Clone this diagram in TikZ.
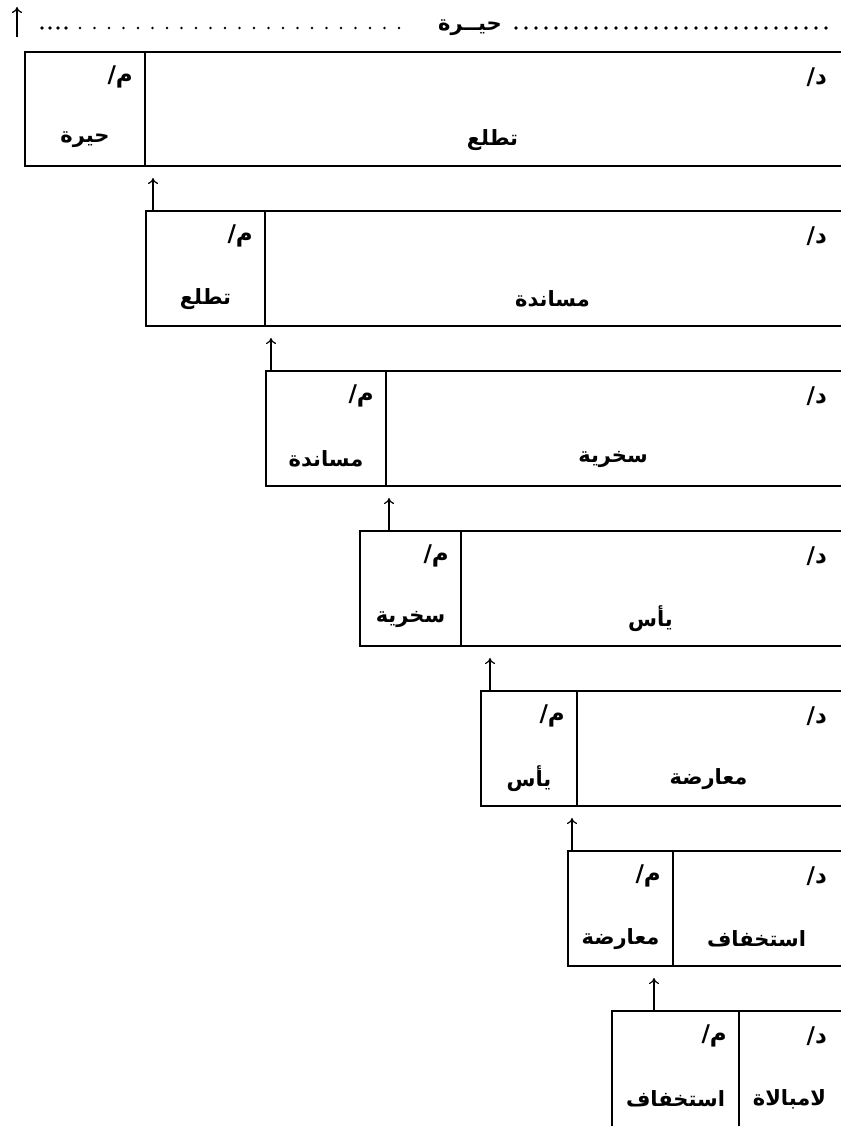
\documentclass[tikz,border=0pt]{standalone}
\usepackage{fontspec}
\TeXXeTstate=1
\newfontfamily\arabicfont[Script=Arabic]{DejaVu Sans}
\usetikzlibrary{arrows.meta}
\begin{document}
\begin{tikzpicture}[x=1pt,y=-1pt,
  boxline/.style={line width=2pt},
  stagebox/.style={draw, line width=2pt, anchor=north west, inner sep=0pt, outer sep=0pt},
  lbl/.style={font=\arabicfont\bfseries\fontsize{21}{25}\selectfont, inner sep=0pt},
  tag/.style={font=\arabicfont\bfseries\fontsize{23}{27}\selectfont, inner sep=0pt},
  arr/.style={line width=1.2pt, -{To[length=6pt,width=10pt]}},
  bigdot/.style={fill=black, circle, inner sep=0pt, minimum size=3.8pt},
  smalldot/.style={fill=black, circle, inner sep=0pt, minimum size=2.6pt},
]
\useasboundingbox (0,0) rectangle (840,1126);
% title line
\coordinate (ta) at (17,37);
\coordinate (tb) at (17,7);
\draw[arr] (ta) -- (tb);
\node[lbl] (title) at (470,28) {\beginR حيــرة\endR};
\foreach \x in {42,50,58,66} \node[bigdot] at (\x,28) {};
\foreach \x in {80,94.5,...,410} \node[smalldot] at (\x,28) {};
\foreach \x in {516,526,...,826} \node[bigdot] at (\x,28) {};

% boxes: name / left / top / bottom / divider / right word / left word
\foreach \i/\l/\t/\b/\d/\rw/\lw in {
  1/25/52/166/145/تطلع/حيرة,
  2/146/211/326/265/مساندة/تطلع,
  3/266/371/486/386/سخرية/مساندة,
  4/360/531/646/461/يأس/سخرية,
  5/481/691/806/577/معارضة/يأس,
  6/568/851/966/673/استخفاف/معارضة,
  7/612/1011/1132/739/لامبالاة/استخفاف}{
  \pgfmathsetmacro{\w}{843-\l}
  \pgfmathsetmacro{\h}{\b-\t}
  \node[stagebox, minimum width=\w pt, minimum height=\h pt] (b\i) at (\l,\t) {};
  \draw[boxline] (\d,\t) -- (\d,\b);
  \node[tag, anchor=east] (dl\i) at (827,\t+25) {\beginR د/\endR};
  \node[tag, anchor=east] (ml\i) at (\d-12,\t+25) {\beginR م/\endR};
  \pgfmathsetmacro{\rc}{(\d+840)/2}
  \node[lbl] (rw\i) at (\rc,\t+88) {\beginR \rw\endR};
  \pgfmathsetmacro{\lc}{(\l+\d)/2}
  \node[lbl] (lw\i) at (\lc,\t+88) {\beginR \lw\endR};
}

% arrows between boxes
\foreach \i/\p/\ax in {2/1/153, 3/2/271, 4/3/389, 5/4/490, 6/5/572, 7/6/654}{
  \coordinate (a\i) at (\ax,0 |- b\i.north);
  \draw[arr, shorten >=12pt] (a\i) -- (a\i |- b\p.south);
}
\end{tikzpicture}
\end{document}
